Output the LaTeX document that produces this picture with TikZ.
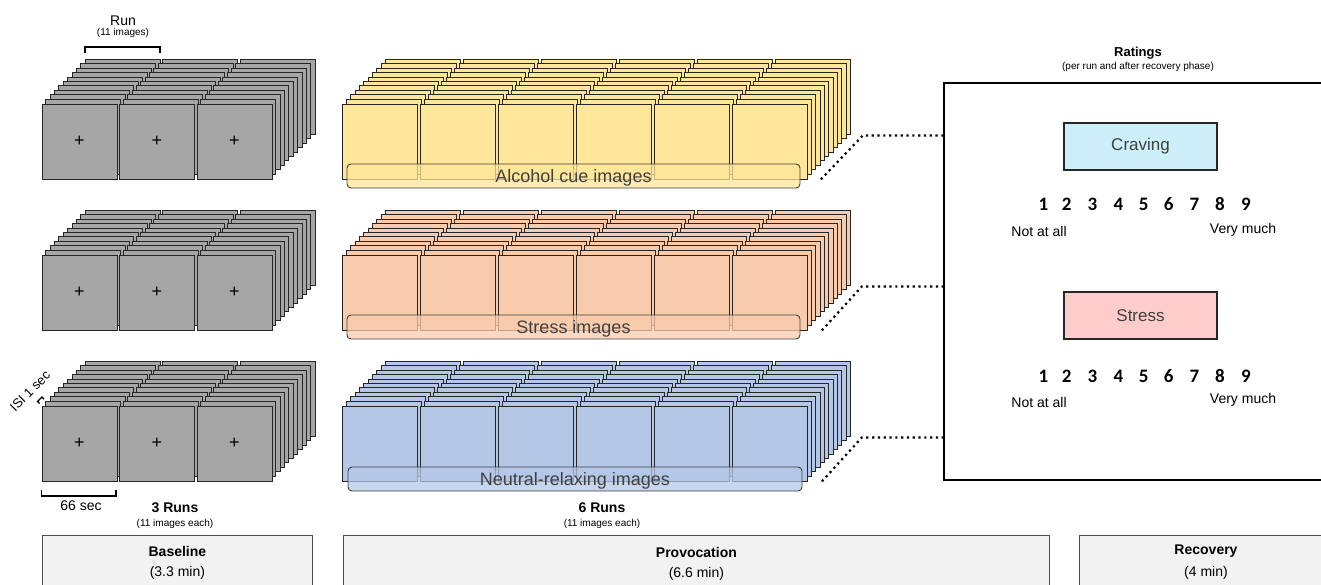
\documentclass[tikz,border=0pt]{standalone}
\usepackage{fontspec}
\setmainfont{Liberation Sans}
\newfontfamily\numfont{Carlito}
\usetikzlibrary{calc}

\definecolor{basegray}{HTML}{A6A6A6}
\definecolor{alcfill}{HTML}{FFE699}
\definecolor{strfill}{HTML}{F8CBAD}
\definecolor{neufill}{HTML}{B4C7E7}
\definecolor{cravefill}{HTML}{CDEFFA}
\definecolor{stressfill}{HTML}{FFCCCC}
\definecolor{phasefill}{HTML}{F2F2F2}
\definecolor{labeltext}{HTML}{404040}

\newcommand\pxfont[1]{\fontsize{#1}{#1}\selectfont}

% one row of image stacks: 11 cards per run, drawn back to front
% #1 name prefix, #2 left x, #3 top y, #4 last run index, #5 run pitch, #6 fill, #7 front text
\newcommand\cardstack[7]{%
  \foreach \k in {10,9,...,1}{
    \foreach \j in {0,...,#4}{
      \path[card=#6] ({#2+#5*\j+4.35*\k},{#3-4.4*\k}) rectangle +(75,75);
    }
  }
  \foreach \j in {0,...,#4}{
    \node[frontcard=#6] (#1\j) at ({#2+#5*\j},{#3}) {#7};
  }
}

\begin{document}
\begin{tikzpicture}[x=1pt,y=-1pt,
  card/.style={draw=black!85, line width=0.9pt, fill=#1},
  frontcard/.style={card=#1, minimum width=75pt, minimum height=75pt,
    anchor=north west, inner sep=0pt, font=\pxfont{18}},
  bar/.style={draw=labeltext, line width=0.9pt, rounded corners=4pt, fill=#1,
    fill opacity=0.75, text opacity=1, text=labeltext, font=\pxfont{18},
    minimum height=24pt, inner sep=0pt, text height=15pt, text depth=3pt},
  scalebox/.style={draw=black!85, line width=1.8pt, fill=#1, minimum width=153pt,
    minimum height=47pt, text=labeltext, font=\pxfont{17}},
  digit/.style={font=\numfont\bfseries\pxfont{19}, inner sep=0pt},
  anchortext/.style={font=\pxfont{14}, inner sep=0pt},
  phase/.style={draw=black!70, line width=0.8pt, fill=phasefill, anchor=north west,
    minimum height=60pt},
  boldlbl/.style={font=\bfseries\pxfont{14}, inner sep=0pt},
  smalllbl/.style={font=\pxfont{10}, inner sep=0pt},
  plainlbl/.style={font=\pxfont{14}, inner sep=0pt},
  bracket/.style={line width=1.6pt},
  dotconn/.style={line width=2.2pt, dash pattern=on 2.2pt off 3.6pt}
]
\useasboundingbox (0,0) rectangle (1321,584);

% ---------- baseline stacks ----------
\cardstack{bA}{41.5}{103.5}{2}{77.5}{basegray}{+}
\cardstack{bB}{41.5}{254.5}{2}{77.5}{basegray}{+}
\cardstack{bC}{41.5}{405.5}{2}{77.5}{basegray}{+}

% ---------- provocation stacks ----------
\cardstack{alc}{342}{103.5}{5}{78}{alcfill}{}
\cardstack{str}{342}{254.5}{5}{78}{strfill}{}
\cardstack{neu}{342}{405.5}{5}{78}{neufill}{}

\node[bar=alcfill, minimum width=453pt] (alcbar) at (573.5,176) {Alcohol cue images};
\node[bar=strfill, minimum width=453pt] (strbar) at (573.5,327) {Stress images};
\node[bar=neufill, minimum width=454pt] (neubar) at (575,479) {Neutral-relaxing images};

% ---------- run bracket and timing marks ----------
\node[plainlbl] (runlbl) at (123,21) {Run};
\node[smalllbl] (runsub) at (123,33) {(11 images)};
\draw[bracket] (85,53) -- (85,47) -- (160,47) -- (160,53);

\draw[bracket] (bC0.south west) ++(0,8.5) -- ++(0,6) -- ++(74.5,0) -- ++(0,-6);
\node[plainlbl] (seclbl) at (81,506) {66 sec};

% ISI bracket between the first two cards of a stack
\draw[line width=1.4pt] (39.6,403.6) -- (37.5,401.5) -- (41.9,397.1) -- (44,399.2);
\node[plainlbl, rotate=45, font=\pxfont{13}] (isilbl) at (30,391) {ISI 1 sec};

\node[boldlbl] (base-runs) at (175,508) {3 Runs};
\node[smalllbl] (base-each) at (175,524) {(11 images each)};
\node[boldlbl] (prov-runs) at (602,508) {6 Runs};
\node[smalllbl] (prov-each) at (602,524) {(11 images each)};

% ---------- ratings panel ----------
\node[draw, line width=2pt, anchor=north west, minimum width=420pt,
      minimum height=397pt, inner sep=0pt] (ratings) at (943,82) {};
\node[boldlbl, font=\bfseries\pxfont{13}] (ratlbl) at (1138,53) {Ratings};
\node[smalllbl] (ratsub) at (1138,67) {(per run and after recovery phase)};

\node[scalebox=cravefill] (craving) at (1140.5,146.5) {Craving};
\node[scalebox=stressfill] (stress) at (1140.5,315.5) {Stress};

\foreach \d/\x in {1/1043.3,2/1066.7,3/1092.3,4/1118.3,5/1143.7,6/1168.7,7/1194.3,8/1220,9/1246}{
  \node[digit] (cr\d) at (\x,204) {\d};
  \node[digit] (st\d) at (\x,376) {\d};
}
\node[anchortext] (cr-low) at (1039,231) {Not at all};
\node[anchortext] (cr-high) at (1243,230) {Very much};
\node[anchortext] (st-low) at (1039,402) {Not at all};
\node[anchortext] (st-high) at (1243,400) {Very much};

% ---------- dotted links from each stack to the ratings ----------
\coordinate (alc-s) at ($(alc5.south east)+(13,0)$);
\coordinate (alc-c) at ($(alc-s)+(42,-44)$);
\draw[dotconn] (alc-s) -- (alc-c) -- (ratings.west |- alc-c);
\coordinate (str-s) at ($(str5.south east)+(14,0)$);
\coordinate (str-c) at ($(str-s)+(40,-44)$);
\draw[dotconn] (str-s) -- (str-c) -- (ratings.west |- str-c);
\coordinate (neu-s) at ($(neu5.south east)+(14,0)$);
\coordinate (neu-c) at ($(neu-s)+(40,-44)$);
\draw[dotconn] (neu-s) -- (neu-c) -- (ratings.west |- neu-c);

% ---------- phase boxes ----------
\node[phase, minimum width=270pt] (baseline) at (42,535) {};
\node[phase, minimum width=706pt] (provocation) at (343,535) {};
\node[phase, minimum width=260pt] (recovery) at (1079,535) {};
\node[boldlbl] (baseline-t) at ($(baseline.north)+(0,16)$) {Baseline};
\node[plainlbl] (baseline-d) at ($(baseline.north)+(0,38)$) {(3.3 min)};
\node[boldlbl] (provocation-t) at ($(provocation.north)+(0,17)$) {Provocation};
\node[plainlbl] (provocation-d) at ($(provocation.north)+(0,39)$) {(6.6 min)};
\node[boldlbl] (recovery-t) at (1206,551) {Recovery};
\node[plainlbl] (recovery-d) at (1206,573) {(4 min)};
\end{tikzpicture}
\end{document}
